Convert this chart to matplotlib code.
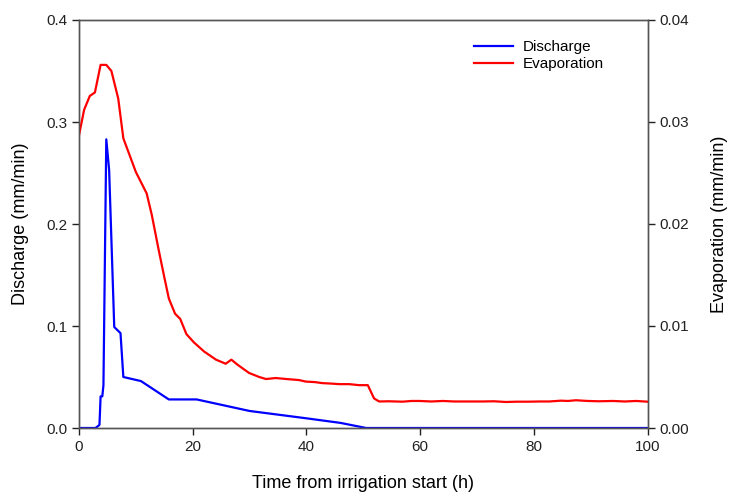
import matplotlib
matplotlib.use("Agg")
import matplotlib.pyplot as plt

plt.rcParams['font.family'] = ['Liberation Sans', 'DejaVu Sans']

# Discharge (mm/min), left axis
dis_t = [0, 2.9, 3.6, 3.8, 4.1, 4.3, 4.8, 5.3, 6.2, 7.3, 7.8, 10.9, 15.8, 20.7,
         30.0, 40.0, 46.0, 50.5, 100]
dis_v = [0, 0, 0.003, 0.031, 0.031, 0.042, 0.283, 0.253, 0.099, 0.093, 0.050,
         0.046, 0.028, 0.028, 0.0167, 0.0095, 0.005, 0.0, 0.0]

# Evaporation (mm/min), right axis
eva_t = [0, 0.9, 1.9, 2.8, 3.8, 4.8, 5.7, 6.9, 7.8, 10.0, 11.9, 12.8, 14.0, 15.0,
         15.8, 16.9, 17.8, 18.9, 20.2, 22.0, 24.1, 25.8, 26.8, 27.9, 29.9, 31.7,
         32.9, 34.6, 36.5, 38.7, 39.9, 41.5, 42.8, 44.5, 45.8, 47.5, 49.3, 50.8,
         51.9, 52.8, 54.5, 56.9, 58.5, 59.9, 62.0, 64.0, 66.0, 68.0, 71.0, 73.0,
         75.1, 77.0, 79.0, 81.0, 82.7, 84.8, 86.0, 87.4, 89.5, 91.5, 93.9, 96.0,
         98.0, 100]
eva_v = [0.0287, 0.0312, 0.03255, 0.0329, 0.0356, 0.0356, 0.0350, 0.0323, 0.0284,
         0.0251, 0.0230, 0.0209, 0.0175, 0.0148, 0.0127, 0.0112, 0.0107, 0.0092,
         0.0084, 0.0075, 0.0067, 0.0063, 0.0067, 0.0062, 0.0054, 0.0050, 0.0048,
         0.0049, 0.0048, 0.0047, 0.00455, 0.0045, 0.0044, 0.00435, 0.0043, 0.0043,
         0.0042, 0.0042, 0.0029, 0.0026, 0.00262, 0.00258, 0.00265, 0.00265,
         0.0026, 0.00265, 0.0026, 0.0026, 0.0026, 0.00262, 0.00255, 0.00258,
         0.00258, 0.0026, 0.0026, 0.00268, 0.00265, 0.00272, 0.00265, 0.00262,
         0.00265, 0.0026, 0.00265, 0.00258]

fig = plt.figure(figsize=(7.3, 4.97), dpi=100)
ax = fig.add_axes([79/730, 69/497, 568.5/730, 408/497])
ax2 = ax.twinx()

l1, = ax.plot(dis_t, dis_v, color='#0000ff', lw=1.6, label='Discharge')
l2, = ax2.plot(eva_t, eva_v, color='#ff0000', lw=1.6, label='Evaporation')

ax.set_xlim(0, 100)
ax.set_ylim(0, 0.4)
ax2.set_ylim(0, 0.04)
ax.set_xticks([0, 20, 40, 60, 80, 100])
ax.set_yticks([0.0, 0.1, 0.2, 0.3, 0.4])
ax2.set_yticks([0.0, 0.01, 0.02, 0.03, 0.04])
ax.set_yticklabels(['0.0', '0.1', '0.2', '0.3', '0.4'])
ax2.set_yticklabels(['0.00', '0.01', '0.02', '0.03', '0.04'])

for a in (ax, ax2):
    a.tick_params(direction='out', length=5, width=1, labelsize=11, colors='#222222')
    for s in a.spines.values():
        s.set_color('#555555')
        s.set_linewidth(1)

ax.set_xlabel('Time from irrigation start (h)', fontsize=13, labelpad=15)
ax.set_ylabel('Discharge (mm/min)', fontsize=13, labelpad=12)
ax2.set_ylabel('Evaporation (mm/min)', fontsize=13, labelpad=16)

ax.legend(handles=[l1, l2], loc='upper left', bbox_to_anchor=(0.67, 0.985),
          frameon=False, fontsize=11, handlelength=2.6, handletextpad=0.6,
          labelspacing=0.2)

fig.savefig('out.png', dpi=100)
